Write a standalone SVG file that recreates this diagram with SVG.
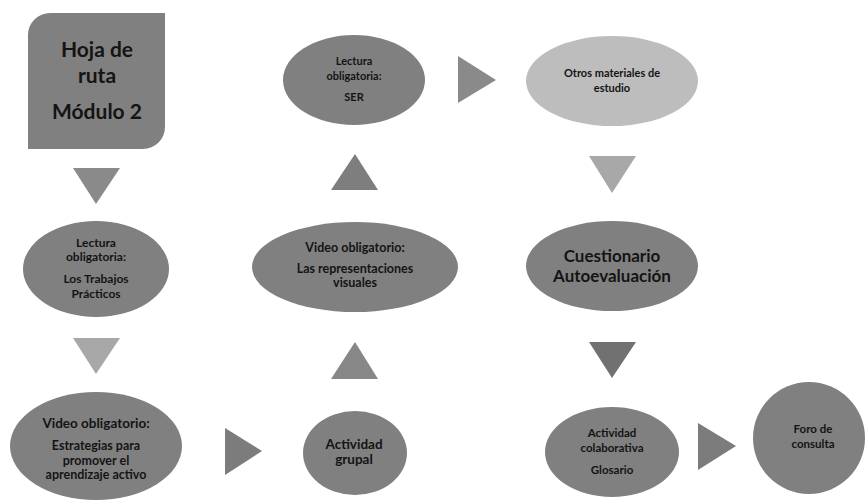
<svg xmlns="http://www.w3.org/2000/svg" width="867" height="502" viewBox="0 0 867 502">
<style>
.n{fill:#808080}
.l{fill:#bdbdbd}
text{font-family:"Lato","Open Sans","Liberation Sans",sans-serif;font-weight:bold;fill:#141414;text-anchor:middle}
</style>
<rect width="867" height="502" fill="#fff"/>
<g id="connectors">
<polygon points="73,168 120,168 96,204" fill="#8a8a8a"/>
<polygon points="73,338 120,338 96,374" fill="#a8a8a8"/>
<polygon points="225,428 225,475 262,451" fill="#7c7c7c"/>
<polygon points="331,379 378,379 355,342" fill="#878787"/>
<polygon points="331,190 378,190 355,154" fill="#7e7e7e"/>
<polygon points="458,56 458,103 496,80" fill="#8a8a8a"/>
<polygon points="589,156 636,156 612,193" fill="#a8a8a8"/>
<polygon points="589,342 636,342 612,378" fill="#717171"/>
<polygon points="698,423 698,470 736,446" fill="#7c7c7c"/>
</g>
<g id="hoja">
<path class="n" d="M50,13 H165 V127 A22,22 0 0 1 143,149 H28 V35 A22,22 0 0 1 50,13 Z"/>
<text x="97" y="57" font-size="21">Hoja de</text>
<text x="97" y="83" font-size="21">ruta</text>
<text x="97" y="119" font-size="21">Módulo 2</text>
</g>
<g id="lectura-tp">
<ellipse class="n" cx="96" cy="269" rx="73" ry="48"/>
<text x="96" y="247" font-size="12">Lectura</text>
<text x="96" y="261" font-size="12">obligatoria:</text>
<text x="96" y="283" font-size="12">Los Trabajos</text>
<text x="96" y="298" font-size="12">Prácticos</text>
</g>
<g id="video-estrategias">
<ellipse class="n" cx="96" cy="446" rx="86" ry="54"/>
<text x="96" y="428" font-size="13.5">Video obligatorio:</text>
<text x="96" y="450" font-size="12.5">Estrategias para</text>
<text x="96" y="465" font-size="12.5">promover el</text>
<text x="96" y="479" font-size="12.5">aprendizaje activo</text>
</g>
<g id="actividad-grupal">
<ellipse class="n" cx="355" cy="453" rx="52" ry="42"/>
<text x="354" y="449" font-size="13.5">Actividad</text>
<text x="354" y="464" font-size="13.5">grupal</text>
</g>
<g id="video-representaciones">
<ellipse class="n" cx="355" cy="267" rx="103" ry="45"/>
<text x="355" y="252" font-size="12.5">Video obligatorio:</text>
<text x="355" y="273" font-size="12.5">Las representaciones</text>
<text x="355" y="287" font-size="12.5">visuales</text>
</g>
<g id="lectura-ser">
<ellipse class="n" cx="354" cy="80" rx="71" ry="45"/>
<text x="354" y="65" font-size="11">Lectura</text>
<text x="354" y="80" font-size="11">obligatoria:</text>
<text x="354" y="101" font-size="11">SER</text>
</g>
<g id="otros">
<ellipse class="l" cx="612" cy="81" rx="86" ry="45"/>
<text x="612" y="77" font-size="11">Otros materiales de</text>
<text x="612" y="92" font-size="11">estudio</text>
</g>
<g id="cuestionario">
<ellipse class="n" cx="612" cy="266" rx="86" ry="45"/>
<text x="612" y="262" font-size="17">Cuestionario</text>
<text x="612" y="282" font-size="17">Autoevaluación</text>
</g>
<g id="actividad-colaborativa">
<ellipse class="n" cx="612" cy="452" rx="67" ry="45"/>
<text x="612" y="437" font-size="11.5">Actividad</text>
<text x="612" y="452" font-size="11.5">colaborativa</text>
<text x="612" y="474" font-size="11.5">Glosario</text>
</g>
<g id="foro">
<circle class="n" cx="809" cy="438" r="56"/>
<text x="813" y="433" font-size="11.5">Foro de</text>
<text x="813" y="448" font-size="11.5">consulta</text>
</g>
</svg>
